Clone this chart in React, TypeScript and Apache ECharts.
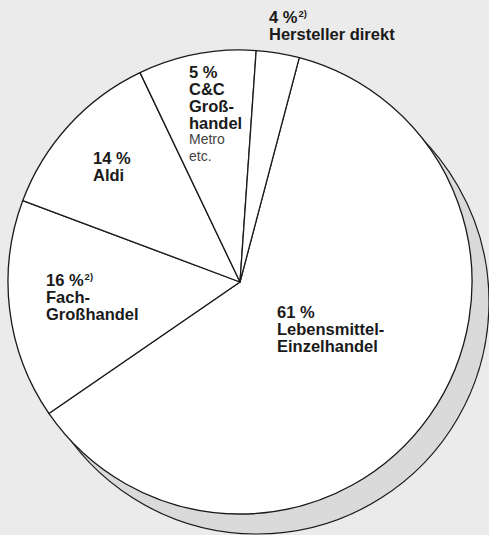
import React, { useEffect, useRef } from "react";
import * as echarts from "echarts";

// Slices in clockwise order, starting just right of 12 o'clock
const categories = ["Lebensmittel-\nEinzelhandel", "Fach-\nGroßhandel", "Aldi", "C&C\nGroß-\nhandel", "Hersteller direkt"];
const printedPercent = [61, 16, 14, 5, 4];
const footnotes = ["", "2)", "", "", "2)"];
const subNotes = ["", "", "", "Metro\netc.", ""];
// angular shares as drawn in the picture (%)
const sliceShare = [61.3, 15.3, 12.2, 8.2, 3.0];

export default function App() {
  const ref = useRef<HTMLDivElement>(null);
  useEffect(() => {
    if (!ref.current) return;
    const chart = echarts.init(ref.current, null, { renderer: "svg" });
    const labelPos = [
      [277, 303.6],
      [46, 271.9],
      [93, 149.9],
      [189, 63.2],
      [269, 8.6],
    ];
    const font = "'Liberation Sans', Arial, Helvetica, sans-serif";
    const data = categories.map((c, i) => ({ name: c, value: sliceShare[i] }));
    chart.setOption({
      animation: false,
      backgroundColor: "#ebebeb",
      series: [
        {
          type: "pie",
          z: 1,
          silent: true,
          center: [257, 302],
          radius: 232,
          label: { show: false },
          labelLine: { show: false },
          itemStyle: { color: "#d9dad9", borderColor: "#1a1a1a", borderWidth: 1.2 },
          data: [{ name: "shadow", value: 1 }],
        },
        {
          type: "pie",
          z: 2,
          silent: true,
          center: [240, 282],
          radius: 232,
          startAngle: 75.2,
          clockwise: true,
          avoidLabelOverlap: false,
          itemStyle: { color: "#ffffff", borderColor: "#1a1a1a", borderWidth: 1.3 },
          labelLine: { show: false },
          label: {
            show: true,
            position: "inside",
            formatter: (p: any) => {
              const i = p.dataIndex;
              let s = `{b|${printedPercent[i]} %}`;
              if (footnotes[i]) s += `{sup|${footnotes[i]}}`;
              categories[i].split("\n").forEach((l) => (s += `\n{b|${l}}`));
              if (subNotes[i]) subNotes[i].split("\n").forEach((l) => (s += `\n{n|${l}}`));
              return s;
            },
            rich: {
              b: { fontFamily: font, fontWeight: "bold", fontSize: 16.5, lineHeight: 17, color: "#1a1a1a" },
              sup: { fontFamily: font, fontWeight: "bold", fontSize: 9.5, lineHeight: 17, verticalAlign: "top", color: "#1a1a1a", padding: [0, 0, 8, 1] },
              n: { fontFamily: font, fontWeight: "normal", fontSize: 14, lineHeight: 16.5, color: "#444444" },
            },
          },
          labelLayout: (params: any) => {
            const pos = labelPos[params.dataIndex];
            return { x: pos[0], y: pos[1], align: "left", verticalAlign: "top" };
          },
          data,
        },
      ],
    });
    return () => chart.dispose();
  }, []);
  return (
    <div
      ref={ref}
      style={{ position: "fixed", left: 0, top: 0, width: 489, height: 535 }}
    />
  );
}
